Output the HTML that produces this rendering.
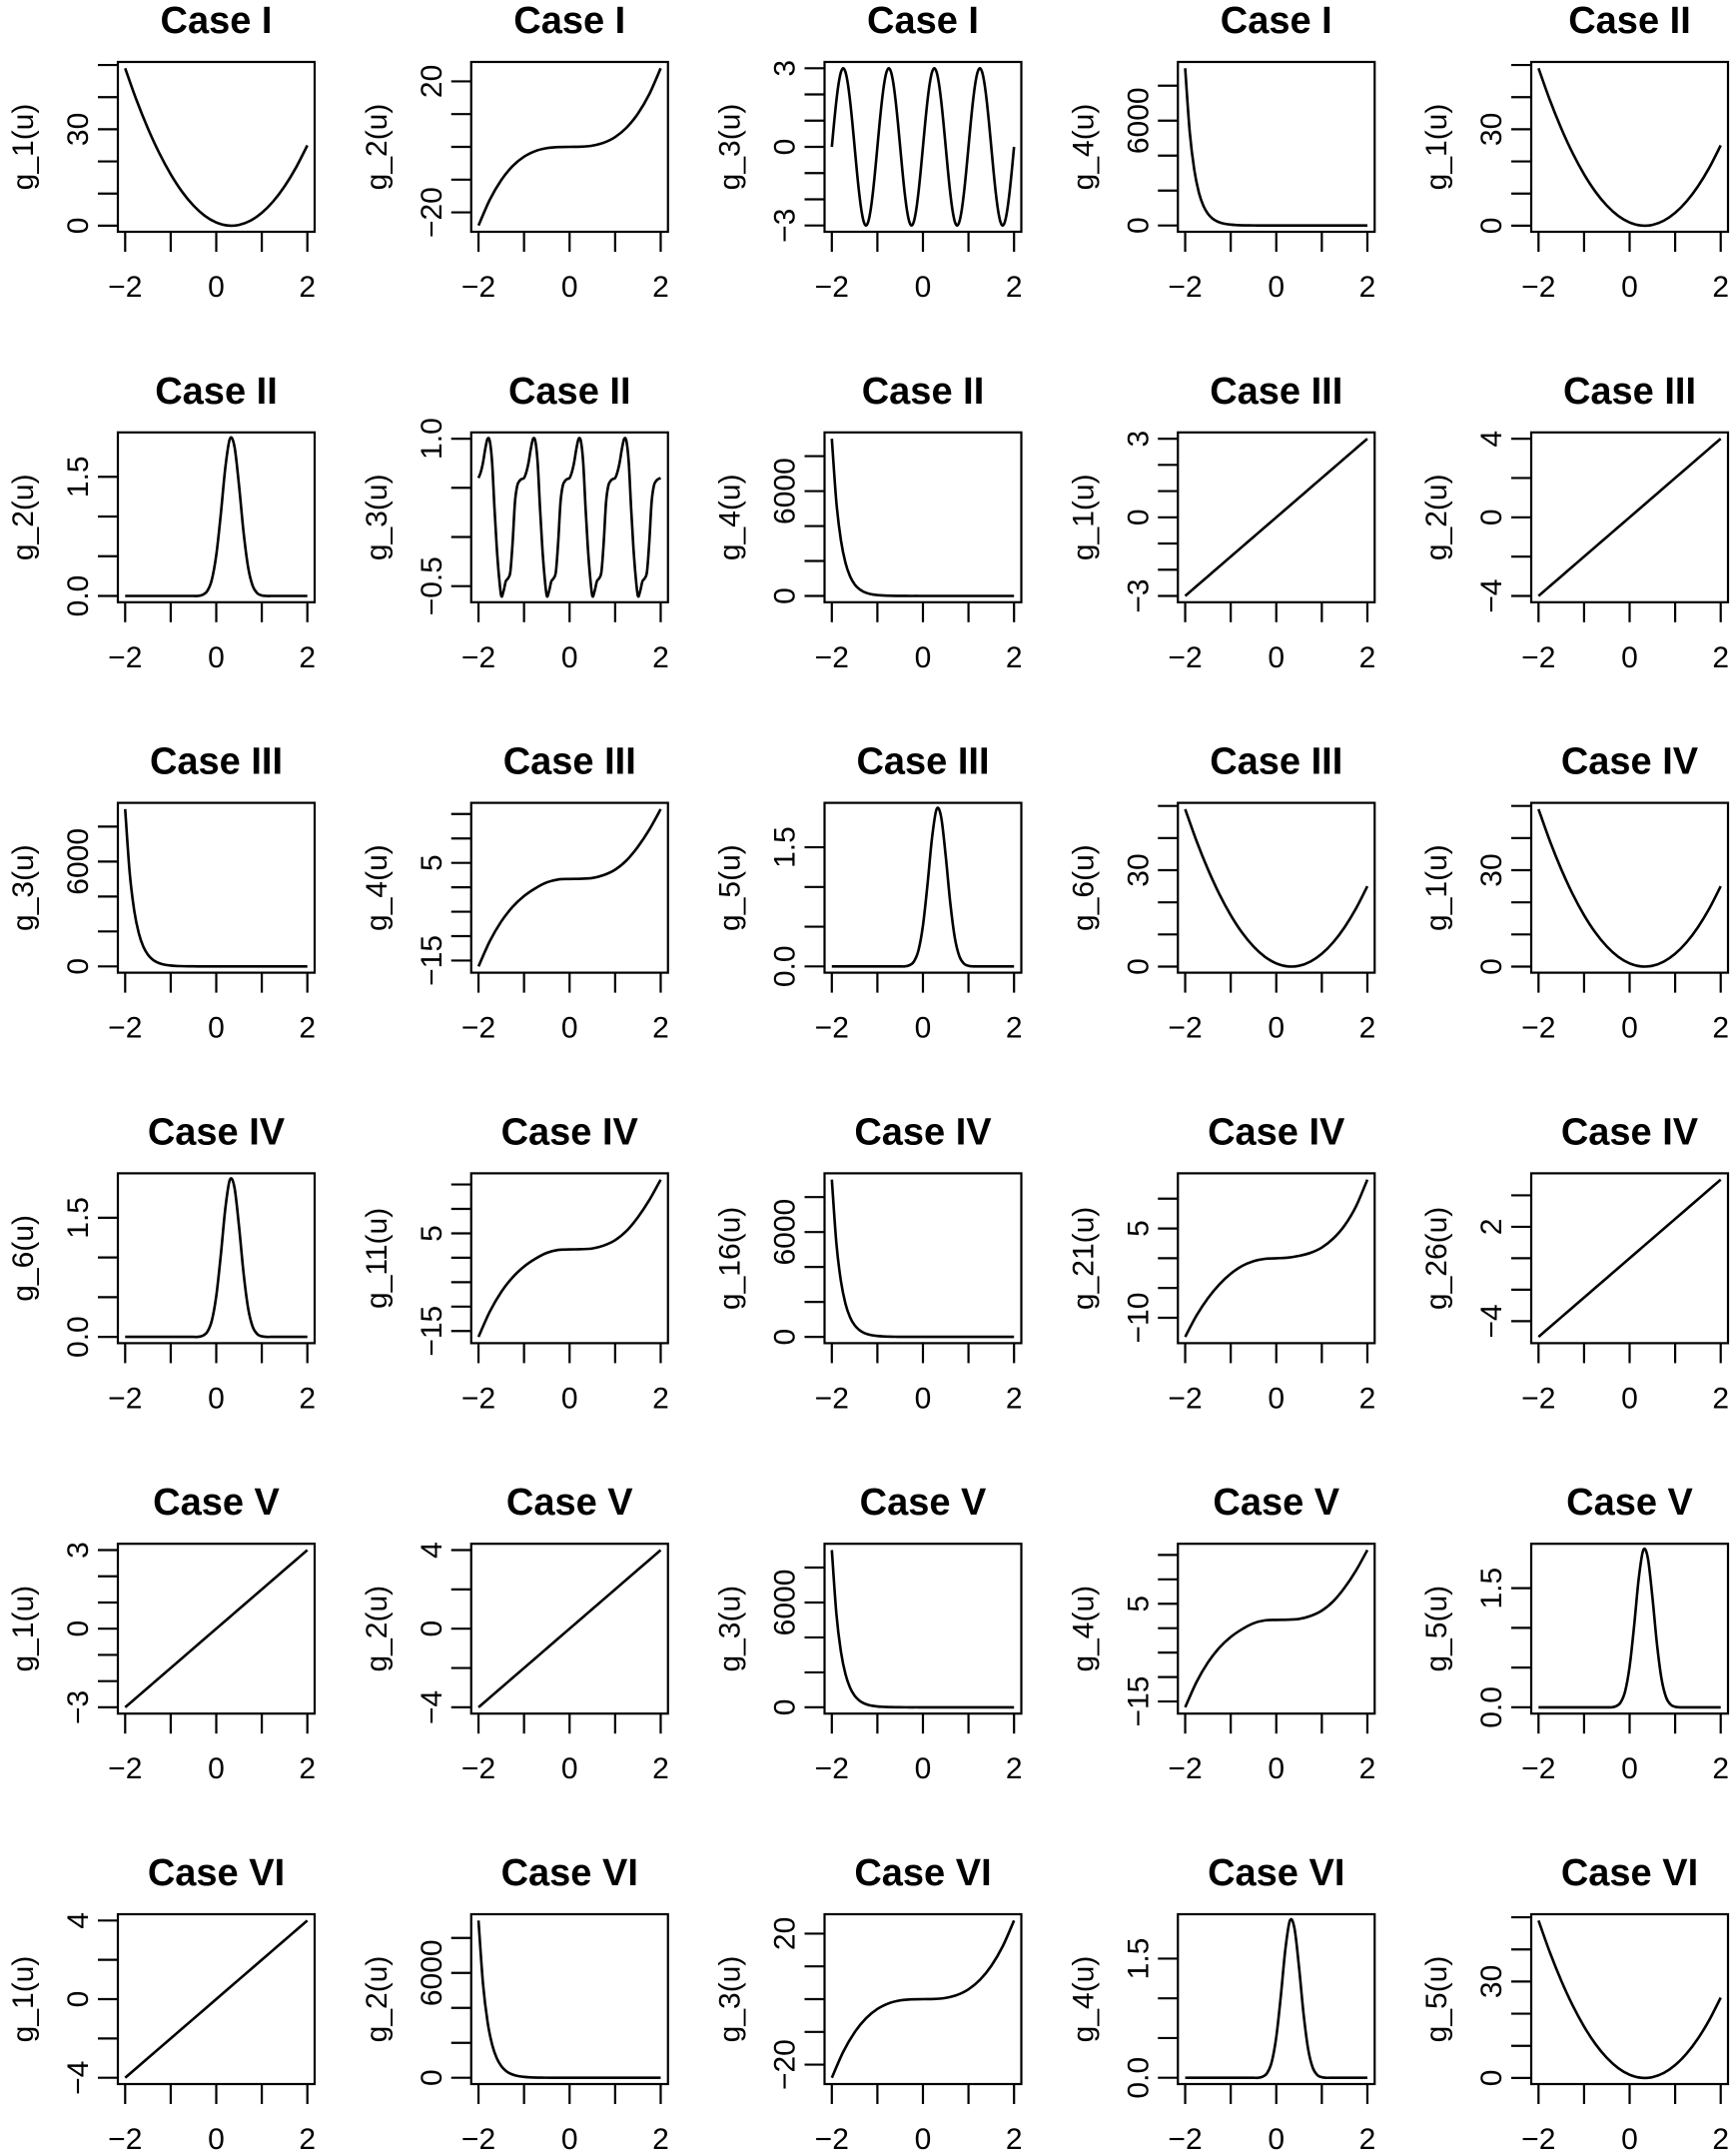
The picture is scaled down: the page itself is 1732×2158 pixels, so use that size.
<!DOCTYPE html>
<html><head><meta charset="utf-8"><title>Case function plots</title>
<style>
html,body{margin:0;padding:0;background:#fff;}
svg{display:block;font-family:"Liberation Sans",Arial,sans-serif;}
</style></head>
<body>
<svg id="fig" width="1732" height="2158" viewBox="0 0 1732 2158" xmlns="http://www.w3.org/2000/svg"></svg>
<script>
// ---- data arrays ----
const xStep025 = [-2,-1.75,-1.5,-1.25,-1,-0.75,-0.5,-0.25,0,0.25,0.5,0.75,1,1.25,1.5,1.75,2];
const quadValues = [49,39.06,30.25,22.56,16,10.56,6.25,3.06,1,0.06,0.25,1.56,4,7.56,12.25,18.06,25];
const cubicAValues = [-24,-16.08,-10.13,-5.86,-3,-1.27,-0.38,-0.05,0,0.05,0.38,1.27,3,5.86,10.13,16.08,24];
const cubicBValues = [-16.2,-11.0,-7.0,-4.0,-1.8,-0.2,1.0,1.6,1.7,1.75,1.9,2.5,3.6,5.5,8.3,11.8,16];
const cubicCValues = [-13.2,-9.6,-6.7,-4.4,-2.6,-1.3,-0.5,-0.1,0,0.1,0.4,0.9,1.8,3.3,5.5,8.7,13.2];
const linAValues = [-3,-2.625,-2.25,-1.875,-1.5,-1.125,-0.75,-0.375,0,0.375,0.75,1.125,1.5,1.875,2.25,2.625,3];
const linBValues = [-4,-3.5,-3,-2.5,-2,-1.5,-1,-0.5,0,0.5,1,1.5,2,2.5,3,3.5,4];
const linCValues = [-5,-4.375,-3.75,-3.125,-2.5,-1.875,-1.25,-0.625,0,0.625,1.25,1.875,2.5,3.125,3.75,4.375,5];

const xStep01 = [-2,-1.9,-1.8,-1.7,-1.6,-1.5,-1.4,-1.3,-1.2,-1.1,-1,-0.9,-0.8,-0.7,-0.6,-0.5,-0.4,-0.3,-0.2,-0.1,0,0.1,0.2,0.3,0.4,0.5,0.6,0.7,0.8,0.9,1,1.1,1.2,1.3,1.4,1.5,1.6,1.7,1.8,1.9,2];
const expValues = [9000,5350,3181,1891,1124,668,397,236,140,83,50,30,18,10,6,4,2,1,1,1,0,0,0,0,0,0,0,0,0,0,0,0,0,0,0,0,0,0,0,0,0];
const gaussValues = [0,0,0,0,0,0,0,0,0,0,0,0,0,0,0,0,0,0.014,0.06,0.198,0.513,1.03,1.62,1.98,1.88,1.39,0.8,0.36,0.127,0.035,0.007,0,0,0,0,0,0,0,0,0,0];

const xStep005 = [-2,-1.95,-1.9,-1.85,-1.8,-1.75,-1.7,-1.65,-1.6,-1.55,-1.5,-1.45,-1.4,-1.35,-1.3,-1.25,-1.2,-1.15,-1.1,-1.05,-1,-0.95,-0.9,-0.85,-0.8,-0.75,-0.7,-0.65,-0.6,-0.55,-0.5,-0.45,-0.4,-0.35,-0.3,-0.25,-0.2,-0.15,-0.1,-0.05,0,0.05,0.1,0.15,0.2,0.25,0.3,0.35,0.4,0.45,0.5,0.55,0.6,0.65,0.7,0.75,0.8,0.85,0.9,0.95,1,1.05,1.1,1.15,1.2,1.25,1.3,1.35,1.4,1.45,1.5,1.55,1.6,1.65,1.7,1.75,1.8,1.85,1.9,1.95,2];
const sineValues = [0,0.927,1.763,2.427,2.853,3,2.853,2.427,1.763,0.927,0,-0.927,-1.763,-2.427,-2.853,-3,-2.853,-2.427,-1.763,-0.927,
0,0.927,1.763,2.427,2.853,3,2.853,2.427,1.763,0.927,0,-0.927,-1.763,-2.427,-2.853,-3,-2.853,-2.427,-1.763,-0.927,
0,0.927,1.763,2.427,2.853,3,2.853,2.427,1.763,0.927,0,-0.927,-1.763,-2.427,-2.853,-3,-2.853,-2.427,-1.763,-0.927,
0,0.927,1.763,2.427,2.853,3,2.853,2.427,1.763,0.927,0,-0.927,-1.763,-2.427,-2.853,-3,-2.853,-2.427,-1.763,-0.927,0];
const waveValues = [0.60,0.66,0.76,0.90,1.00,0.97,0.75,0.30,-0.10,-0.40,-0.60,-0.55,-0.45,-0.42,-0.35,-0.05,0.35,0.52,0.57,0.59,
0.60,0.66,0.76,0.90,1.00,0.97,0.75,0.30,-0.10,-0.40,-0.60,-0.55,-0.45,-0.42,-0.35,-0.05,0.35,0.52,0.57,0.59,
0.60,0.66,0.76,0.90,1.00,0.97,0.75,0.30,-0.10,-0.40,-0.60,-0.55,-0.45,-0.42,-0.35,-0.05,0.35,0.52,0.57,0.59,
0.60,0.66,0.76,0.90,1.00,0.97,0.75,0.30,-0.10,-0.40,-0.60,-0.55,-0.45,-0.42,-0.35,-0.05,0.35,0.52,0.57,0.59,0.60];

// tick values and which tick labels are printed
const xTicks = [-2,-1,0,1,2];
const xTickLabels = ["\u22122","","0","","2"];
const quadTicks = [0,10,20,30,40,50], quadLabels = ["0","","","30","",""];
const cubicATicks = [-20,-10,0,10,20], cubicALabels = ["\u221220","","","","20"];
const cubicBTicks = [-15,-10,-5,0,5,10,15], cubicBLabels = ["\u221215","","","","5","",""];
const cubicCTicks = [-10,-5,0,5,10], cubicCLabels = ["\u221210","","","5",""];
const sineTicks = [-3,-2,-1,0,1,2,3], sineLabels = ["\u22123","","","0","","","3"];
const expTicks = [0,2000,4000,6000,8000], expLabels = ["0","","","6000",""];
const gaussTicks = [0,0.5,1,1.5], gaussLabels = ["0.0","","","1.5"];
const waveTicks = [-0.5,0,0.5,1], waveLabels = ["\u22120.5","","","1.0"];
const linATicks = [-3,-2,-1,0,1,2,3], linALabels = ["\u22123","","","0","","","3"];
const linBTicks = [-4,-2,0,2,4], linBLabels = ["\u22124","","0","","4"];
const linCTicks = [-4,-2,0,2,4], linCLabels = ["\u22124","","","2",""];

const shapes = {
  Q:{x:xStep025,y:quadValues,t:quadTicks,l:quadLabels},
  C1:{x:xStep025,y:cubicAValues,t:cubicATicks,l:cubicALabels},
  C2:{x:xStep025,y:cubicBValues,t:cubicBTicks,l:cubicBLabels},
  C3:{x:xStep025,y:cubicCValues,t:cubicCTicks,l:cubicCLabels},
  S:{x:xStep005,y:sineValues,t:sineTicks,l:sineLabels},
  W:{x:xStep005,y:waveValues,t:waveTicks,l:waveLabels},
  E:{x:xStep01,y:expValues,t:expTicks,l:expLabels},
  G:{x:xStep01,y:gaussValues,t:gaussTicks,l:gaussLabels},
  L1:{x:xStep025,y:linAValues,t:linATicks,l:linALabels},
  L2:{x:xStep025,y:linBValues,t:linBTicks,l:linBLabels},
  L3:{x:xStep025,y:linCValues,t:linCTicks,l:linCLabels}
};

const panelTitles = ["Case I","Case I","Case I","Case I","Case II",
 "Case II","Case II","Case II","Case III","Case III",
 "Case III","Case III","Case III","Case III","Case IV",
 "Case IV","Case IV","Case IV","Case IV","Case IV",
 "Case V","Case V","Case V","Case V","Case V",
 "Case VI","Case VI","Case VI","Case VI","Case VI"];
const panelYLabels = ["g_1(u)","g_2(u)","g_3(u)","g_4(u)","g_1(u)",
 "g_2(u)","g_3(u)","g_4(u)","g_1(u)","g_2(u)",
 "g_3(u)","g_4(u)","g_5(u)","g_6(u)","g_1(u)",
 "g_6(u)","g_11(u)","g_16(u)","g_21(u)","g_26(u)",
 "g_1(u)","g_2(u)","g_3(u)","g_4(u)","g_5(u)",
 "g_1(u)","g_2(u)","g_3(u)","g_4(u)","g_5(u)"];
const panelShapes = ["Q","C1","S","E","Q",
 "G","W","E","L1","L2",
 "E","C2","G","Q","Q",
 "G","C2","E","C3","L3",
 "L1","L2","E","C2","G",
 "L2","E","C1","G","Q"];

const NS = "http://www.w3.org/2000/svg";
const svg = document.getElementById("fig");
function mk(tag, attrs, parent){
  const e = document.createElementNS(NS, tag);
  for (const k in attrs) e.setAttribute(k, attrs[k]);
  parent.appendChild(e);
  return e;
}
function smoothPath(pts){
  let d = "M" + pts[0][0].toFixed(2) + "," + pts[0][1].toFixed(2);
  for (let i=0;i<pts.length-1;i++){
    const p0 = pts[i-1]||pts[i], p1 = pts[i], p2 = pts[i+1], p3 = pts[i+2]||pts[i+1];
    const c1x = p1[0]+(p2[0]-p0[0])/6, c1y = p1[1]+(p2[1]-p0[1])/6;
    const c2x = p2[0]-(p3[0]-p1[0])/6, c2y = p2[1]-(p3[1]-p1[1])/6;
    d += " C"+c1x.toFixed(2)+","+c1y.toFixed(2)+" "+c2x.toFixed(2)+","+c2y.toFixed(2)+" "+p2[0].toFixed(2)+","+p2[1].toFixed(2);
  }
  return d;
}

const W = 197, H = 170;
for (let i=0;i<30;i++){
  const r = Math.floor(i/5), c = i%5;
  const L = 118 + 353.75*c, T = 62 + 370.8*r, B = T+H;
  const sh = shapes[panelShapes[i]];
  const g = mk("g", {}, svg);
  
  
  const ymin = Math.min(...sh.y), ymax = Math.max(...sh.y);
  const pad = (ymax-ymin)*0.04;
  const y0 = ymin-pad, y1 = ymax+pad;
  const xs = v => L + (v+2.16)/4.32*W;
  const ys = v => B - (v-y0)/(y1-y0)*H;

  const title = mk("text", {x:L+W/2, y:T-29, "text-anchor":"middle", "font-size":38, "font-weight":"bold"}, g);
  title.textContent = panelTitles[i];
  
  

  const yl = mk("text", {transform:"translate("+(L-85)+","+(T+H/2)+") rotate(-90)", "text-anchor":"middle", "font-size":30}, g);
  yl.textContent = panelYLabels[i];
  
  

  const box = mk("rect", {x:L, y:T, width:W, height:H, fill:"none", stroke:"#000", "stroke-width":2.2}, g);
  
  

  // x axis
  const xa = mk("g", {}, g);
  
  
  xTicks.forEach((v,k)=>{
    const X = xs(v);
    mk("line", {x1:X, x2:X, y1:B, y2:B+20, stroke:"#000", "stroke-width":2.2}, xa);
    if (xTickLabels[k]) {
      const t = mk("text", {x:X, y:B+65, "text-anchor":"middle", "font-size":30}, xa);
      t.textContent = xTickLabels[k];
      
      
    }
  });
  // y axis
  const ya = mk("g", {}, g);
  
  
  sh.t.forEach((v,k)=>{
    const Y = ys(v);
    mk("line", {x1:L-20, x2:L, y1:Y, y2:Y, stroke:"#000", "stroke-width":2.2}, ya);
    if (sh.l[k]) {
      const t = mk("text", {transform:"translate("+(L-30)+","+Y+") rotate(-90)", "text-anchor":"middle", "font-size":30}, ya);
      t.textContent = sh.l[k];
      
      
    }
  });
  // curve
  const pts = sh.x.map((u,k)=>[xs(u), ys(sh.y[k])]);
  const curve = mk("path", {d:smoothPath(pts), fill:"none", stroke:"#000", "stroke-width":2.6, "stroke-linejoin":"round"}, g);
  
  
}
</script>
</body></html>
